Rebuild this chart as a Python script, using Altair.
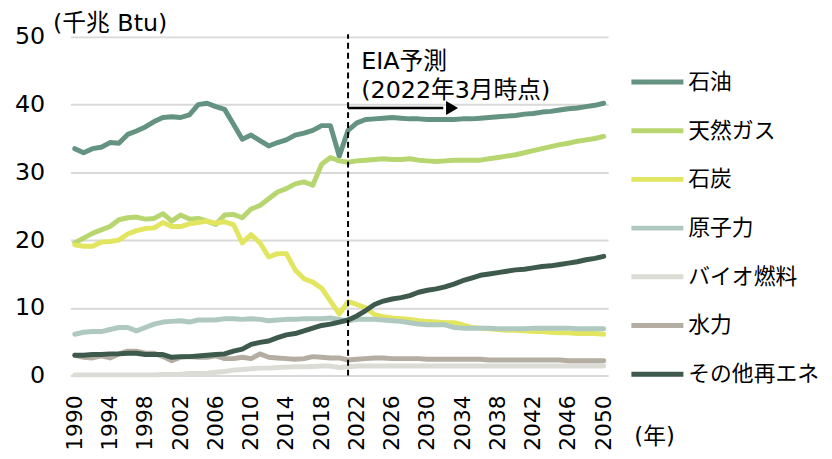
import altair as alt
import pandas as pd

years = list(range(1990, 2051))

series_names = ["石油", "天然ガス", "石炭", "原子力", "バイオ燃料", "水力", "その他再エネ"]
series_colors = ["#649382", "#b8d670", "#e2e55f", "#afc9c1", "#dcdcd6", "#b3ada2", "#3d5a4d"]

oil = [33.5, 32.9, 33.5, 33.7, 34.4, 34.3, 35.6, 36.1, 36.7, 37.5,
       38.1, 38.2, 38.1, 38.5, 40.0, 40.2, 39.7, 39.3, 37.1, 34.9,
       35.5, 34.7, 33.9, 34.4, 34.8, 35.5, 35.8, 36.2, 36.9, 36.9,
       32.4, 36.2,
       37.3, 37.8, 37.9, 38.0, 38.1, 38.0, 37.9, 37.9, 37.8, 37.8,
       37.8, 37.8, 37.9, 37.9, 38.0, 38.1, 38.2, 38.3, 38.4, 38.6,
       38.7, 38.9, 39.0, 39.2, 39.4, 39.5, 39.7, 39.9, 40.2]
gas = [19.6, 20.3, 21.0, 21.5, 22.0, 23.0, 23.3, 23.4, 23.1, 23.2,
       23.9, 22.8, 23.7, 23.1, 23.2, 22.8, 22.3, 23.7, 23.8, 23.3,
       24.6, 25.1, 26.1, 27.1, 27.6, 28.3, 28.6, 28.1, 31.2, 32.2,
       31.7, 31.5,
       31.7, 31.8, 31.9, 32.0, 31.9, 31.9, 32.0, 31.8, 31.7, 31.6,
       31.7, 31.8, 31.8, 31.8, 31.8, 32.0, 32.2, 32.4, 32.6, 32.9,
       33.2, 33.5, 33.8, 34.1, 34.3, 34.6, 34.8, 35.0, 35.3]
coal = [19.3, 19.1, 19.1, 19.7, 19.8, 20.0, 20.9, 21.4, 21.7, 21.8,
        22.6, 22.0, 22.0, 22.4, 22.6, 22.8, 22.5, 22.7, 22.3, 19.6,
        20.8, 19.6, 17.5, 18.0, 18.0, 15.6, 14.3, 13.8, 12.9, 11.0,
        9.1, 10.9,
        10.5, 10.0, 9.0, 8.7, 8.5, 8.4, 8.3, 8.1, 8.0, 7.9,
        7.8, 7.8, 7.5, 7.1, 7.0, 6.9, 6.8, 6.7, 6.7, 6.6,
        6.5, 6.5, 6.4, 6.3, 6.3, 6.2, 6.2, 6.2, 6.1]
nuclear = [6.1, 6.4, 6.5, 6.5, 6.8, 7.1, 7.1, 6.6, 7.1, 7.6,
           7.9, 8.0, 8.1, 7.9, 8.2, 8.2, 8.2, 8.4, 8.4, 8.3,
           8.4, 8.3, 8.1, 8.2, 8.3, 8.3, 8.4, 8.4, 8.4, 8.5,
           8.3, 8.1,
           8.3, 8.3, 8.3, 8.2, 8.1, 8.0, 7.8, 7.6, 7.5, 7.5,
           7.5, 7.1, 7.0, 7.0, 7.0, 7.0, 6.9, 6.9, 6.9, 6.9,
           7.0, 7.0, 7.0, 7.0, 7.0, 6.9, 6.9, 6.9, 6.9]
biofuel = [0.1, 0.1, 0.1, 0.1, 0.1, 0.1, 0.1, 0.1, 0.1, 0.1,
           0.15, 0.15, 0.2, 0.3, 0.3, 0.35, 0.5, 0.6, 0.8, 0.9,
           1.0, 1.1, 1.1, 1.2, 1.25, 1.3, 1.3, 1.35, 1.4, 1.4,
           1.2, 1.3,
           1.4, 1.4, 1.4, 1.4, 1.4, 1.4, 1.4, 1.4, 1.4, 1.4,
           1.4, 1.4, 1.4, 1.4, 1.4, 1.4, 1.4, 1.4, 1.4, 1.4,
           1.4, 1.4, 1.4, 1.4, 1.4, 1.4, 1.4, 1.4, 1.4]
hydro = [3.0, 2.7, 2.6, 2.9, 2.6, 3.2, 3.6, 3.6, 3.3, 3.3,
         2.8, 2.2, 2.7, 2.8, 2.7, 2.7, 2.9, 2.5, 2.5, 2.7,
         2.5, 3.2, 2.7, 2.6, 2.5, 2.4, 2.5, 2.8, 2.7, 2.6,
         2.6, 2.3,
         2.4, 2.5, 2.6, 2.6, 2.5, 2.5, 2.5, 2.5, 2.4, 2.4,
         2.4, 2.4, 2.4, 2.4, 2.4, 2.3, 2.3, 2.3, 2.3, 2.3,
         2.3, 2.3, 2.3, 2.3, 2.2, 2.2, 2.2, 2.2, 2.2]
other = [3.0, 3.0, 3.1, 3.1, 3.2, 3.2, 3.3, 3.3, 3.1, 3.1,
         3.1, 2.7, 2.8, 2.8, 2.9, 3.0, 3.1, 3.2, 3.6, 3.9,
         4.6, 4.9, 5.1, 5.6, 6.0, 6.2, 6.6, 7.0, 7.4, 7.6,
         7.9, 8.2,
         8.8, 9.6, 10.5, 11.0, 11.3, 11.5, 11.8, 12.3, 12.6, 12.8,
         13.1, 13.5, 14.0, 14.4, 14.8, 15.0, 15.2, 15.4, 15.6, 15.7,
         15.9, 16.1, 16.2, 16.4, 16.6, 16.8, 17.1, 17.3, 17.6]

series_values = [oil, gas, coal, nuclear, biofuel, hydro, other]

x_ticks = list(range(1990, 2051, 4))
x_tick_labels = [str(y) for y in x_ticks]
y_ticks = [0, 10, 20, 30, 40, 50]

forecast_start = 2021
arrow_end = 2031.8
arrow_head = 2032.8
arrow_level = 39.5
note_lines = ["EIA予測", "(2022年3月時点)"]
note_year = 2022.5
note_levels = [46.35, 41.95]

rows = []
for name, vals in zip(series_names, series_values):
    for yr, v in zip(years, vals):
        rows.append({"series": name, "year": yr, "value": v})
df = pd.DataFrame(rows)

FONT = "DejaVu Sans, Noto Sans CJK JP"
JP = "Noto Sans CJK JP, DejaVu Sans"

x_axis = alt.Axis(
    values=x_ticks, labels=False, ticks=False, tickSize=0, domain=False, grid=False,
    title="(年)", titleAngle=0, titleX=569, titleY=62, titleAlign="left",
    titleBaseline="middle", titleFontSize=23, titleFont=FONT, titleFontWeight="normal",
    titleColor="#000000",
)
y_axis = alt.Axis(
    values=y_ticks, labelFontSize=24, labelFont=FONT, labelColor="#000000",
    labelPadding=26, ticks=False, tickSize=0, domain=False,
    gridColor="#d9d9d9", gridWidth=2,
    title="(千兆 Btu)", titleAngle=0, titleX=-18, titleY=-13, titleAlign="left",
    titleBaseline="middle", titleFontSize=24, titleFont=FONT, titleFontWeight="normal",
    titleColor="#000000",
)
x_scale = alt.Scale(domain=[1989.5, 2050.5], nice=False, zero=False)
y_scale = alt.Scale(domain=[0, 50], nice=False, zero=True)


def X(field="year"):
    return alt.X(f"{field}:Q", scale=x_scale, axis=x_axis)


def Y(field="value"):
    return alt.Y(f"{field}:Q", scale=y_scale, axis=y_axis)


lines = alt.Chart(df).mark_line(strokeWidth=5, strokeCap="round", strokeJoin="round").encode(
    x=X(),
    y=Y(),
    color=alt.Color(
        "series:N",
        sort=series_names,
        scale=alt.Scale(domain=series_names, range=series_colors),
        legend=alt.Legend(
            title=None, orient="none", legendX=564, legendY=29,
            symbolType="M-1,0H2.75", symbolSize=784, symbolStrokeWidth=5,
            labelFontSize=22, labelFont=JP, labelColor="#000000", labelOffset=27,
            rowPadding=21.2, labelLimit=0,
        ),
    ),
    order=alt.Order("year:Q"),
)

# year tick labels, rotated, placed along the x scale just under the plot
tick_df = pd.DataFrame({"year": x_ticks, "label": x_tick_labels})
tick_labels = alt.Chart(tick_df).mark_text(
    angle=270, align="right", baseline="middle", fontSize=22, font=FONT, color="#000000"
).encode(x=X(), y=alt.value(362), text="label:N")

rule_df = pd.DataFrame({"year": [forecast_start], "value": [0], "value2": [50.4]})
rule = alt.Chart(rule_df).mark_rule(color="#000000", strokeWidth=2, strokeDash=[6, 4]).encode(
    x=X(), y=Y(), y2="value2:Q"
)

arrow_df = pd.DataFrame({"year": [forecast_start], "year2": [arrow_end], "value": [arrow_level]})
arrow = alt.Chart(arrow_df).mark_rule(color="#000000", strokeWidth=2.5).encode(
    x=X(), x2="year2:Q", y=Y()
)
head_df = pd.DataFrame({"year": [arrow_head], "value": [arrow_level]})
head = alt.Chart(head_df).mark_point(
    shape="triangle-right", filled=True, size=196, color="#000000", opacity=1
).encode(x=X(), y=Y())

note_df = pd.DataFrame({"year": [note_year] * 2, "value": note_levels, "label": note_lines})
note = alt.Chart(note_df).mark_text(
    align="left", baseline="middle", fontSize=24, font=FONT, color="#000000"
).encode(x=X(), y=Y(), text="label:N")

chart = alt.layer(lines, tick_labels, rule, arrow, head, note).properties(
    width=543,
    height=342,
    padding={"left": 63, "top": 27, "right": 218, "bottom": 74},
    autosize=alt.AutoSizeParams(type="none"),
    background="white",
).configure_view(stroke=None)

chart.save("out.html", embed_options={"renderer": "svg", "actions": False})
